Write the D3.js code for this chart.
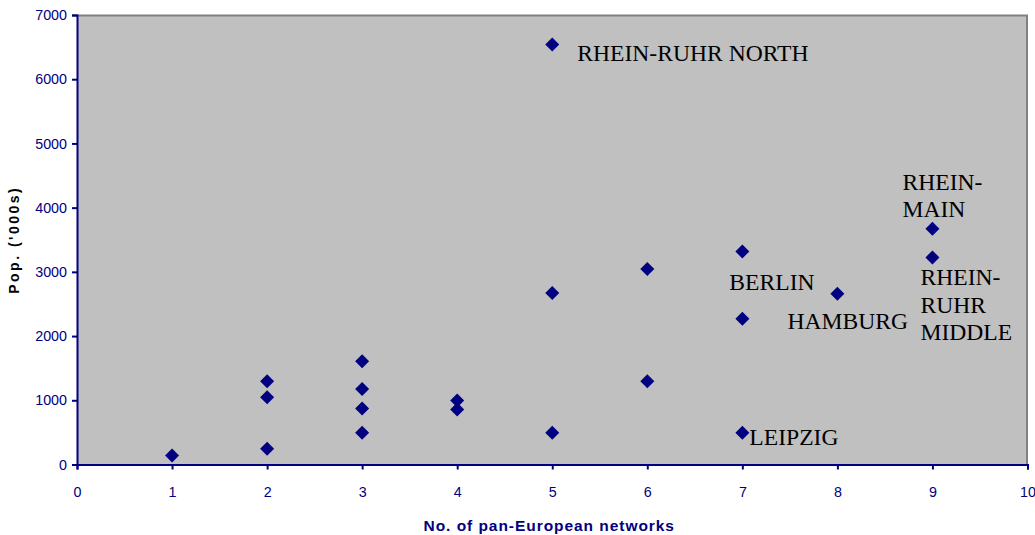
<!DOCTYPE html>
<html>
<head>
<meta charset="utf-8">
<script src="https://cdn.jsdelivr.net/npm/d3@7"></script>
<style>
  html, body { margin: 0; padding: 0; background: #fff; }
  #chart { width: 1035px; height: 535px; }
</style>
</head>
<body>
<div id="chart"></div>
<script>
// No. of pan-European networks per city region
const networks = [1, 2, 2, 2, 3, 3, 3, 3, 4, 4, 5, 5, 5, 6, 6, 7, 7, 7, 8, 9, 9];
// Population ('000s)
const population = [140, 1296, 1047, 244, 1607, 1177, 871, 493, 996, 856, 6540, 2670, 493, 3044, 1296, 3318, 2271, 493, 2660, 3671, 3225];

const xTicks = [0, 1, 2, 3, 4, 5, 6, 7, 8, 9, 10];
const yTicks = [0, 1000, 2000, 3000, 4000, 5000, 6000, 7000];

// Region labels, each tied to its data point (index into the arrays above)
const labelLines = [
  ['RHEIN-RUHR NORTH'],
  ['BERLIN'],
  ['HAMBURG'],
  ['RHEIN-', 'MAIN'],
  ['RHEIN-', 'RUHR', 'MIDDLE'],
  ['LEIPZIG']
];
const labelPoint = [10, 15, 18, 19, 20, 17];

const width = 1035, height = 535;
const margin = { top: 15, right: 7.5, bottom: 70.5, left: 77 };

const svg = d3.select('#chart').append('svg')
  .attr('width', width)
  .attr('height', height)
  .style('display', 'block');

const x = d3.scaleLinear().domain([0, 10]).range([margin.left, width - margin.right]);
const y = d3.scaleLinear().domain([0, 7000]).range([height - margin.bottom, margin.top]);

const navy = '#000080';

// Plot area background
svg.append('rect')
  .attr('x', x(0)).attr('y', y(7000))
  .attr('width', x(10) - x(0)).attr('height', y(0) - y(7000))
  .attr('fill', '#c0c0c0');

// Top and right frame in grey
svg.append('path')
  .attr('d', `M${x(0)},${y(7000) + 0.5}H${x(10) - 0.5}V${y(0)}`)
  .attr('fill', 'none')
  .attr('stroke', '#808080')
  .attr('stroke-width', 2);

// Axes
const xAxis = svg.append('g')
  .attr('transform', `translate(0,${y(0)})`)
  .call(d3.axisBottom(x).tickValues(xTicks).tickSize(5).tickPadding(17));

const yAxis = svg.append('g')
  .attr('transform', `translate(${x(0)},0)`)
  .call(d3.axisLeft(y).tickValues(yTicks).tickSize(5).tickPadding(5).tickFormat(d3.format('d')));

[xAxis, yAxis].forEach(ax => {
  ax.select('.domain').attr('stroke', navy).attr('stroke-width', 2);
  ax.selectAll('.tick line').attr('stroke', navy).attr('stroke-width', 2);
  ax.selectAll('.tick text')
    .attr('fill', navy)
    .style('font-family', 'Arial, "Liberation Sans", sans-serif')
    .style('font-size', '14.3px');
});

// Markers
svg.append('g')
  .selectAll('path')
  .data(networks.map((n, i) => ({ n, p: population[i] })))
  .join('path')
  .attr('transform', d => `translate(${x(d.n)},${y(d.p)})`)
  .attr('d', 'M0,-7L7,0L0,7L-7,0Z')
  .attr('fill', navy);

// Labels: offsets relative to their point
const labelOffset = [[25, 16], [-13, 39], [-50, 35], [-30, -39], [-12, 28], [7, 12]];
const lineHeight = 27.5;

const labels = svg.append('g')
  .style('font-family', '"Times New Roman", "Liberation Serif", serif')
  .style('font-size', '23.6px')
  .attr('fill', '#000');

labelLines.forEach((lines, i) => {
  const k = labelPoint[i];
  const px = x(networks[k]) + labelOffset[i][0];
  const py = y(population[k]) + labelOffset[i][1];
  const t = labels.append('text').attr('x', px).attr('y', py);
  lines.forEach((line, j) => {
    t.append('tspan').attr('x', px).attr('y', py + j * lineHeight).text(line);
  });
});

// Axis titles
svg.append('text')
  .attr('x', (x(0) + x(10)) / 2 - 3)
  .attr('y', 531)
  .attr('text-anchor', 'middle')
  .attr('fill', navy)
  .style('font-family', 'Arial, "Liberation Sans", sans-serif')
  .style('font-weight', 'bold')
  .style('font-size', '15.5px')
  .style('letter-spacing', '0.95px')
  .text('No. of pan-European networks');

svg.append('text')
  .attr('transform', `translate(19,${(y(0) + y(7000)) / 2}) rotate(-90)`)
  .attr('text-anchor', 'middle')
  .attr('fill', '#000')
  .style('font-family', 'Arial, "Liberation Sans", sans-serif')
  .style('font-weight', 'bold')
  .style('font-size', '14px')
  .style('letter-spacing', '2.5px')
  .text("Pop. ('000s)");
</script>
</body>
</html>
